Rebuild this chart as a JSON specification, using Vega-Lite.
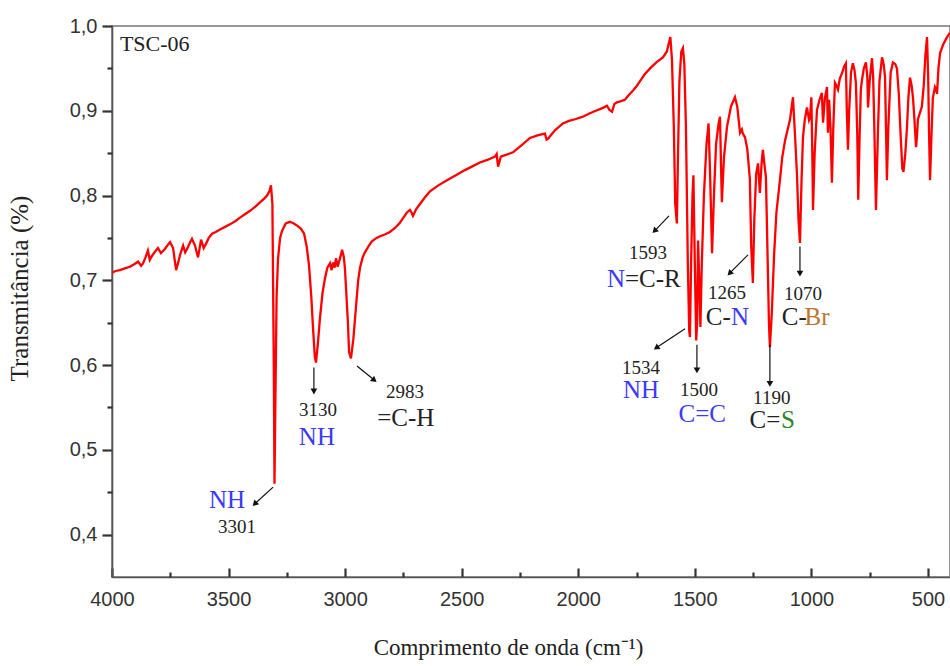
{
  "$schema": "https://vega.github.io/schema/vega-lite/v6.json",
  "width": 838,
  "height": 551,
  "autosize": "none",
  "padding": {"left": 112, "top": 26, "right": 0, "bottom": 89},
  "background": "white",
  "config": {"view": {"stroke": "#777", "strokeWidth": 1.5}, "axis": {"ticks": true, "tickOpacity": 1, "tickColor": "#333", "tickWidth": 2}},
  "datasets": {
    "spectrum": [
      {"w":4000,"T":0.709},{"w":3985,"T":0.711},{"w":3966,"T":0.712},{"w":3945,"T":0.714},{"w":3923,"T":0.716},{"w":3905,"T":0.719},{"w":3888,"T":0.722},{"w":3875,"T":0.717},{"w":3867,"T":0.720},{"w":3855,"T":0.728},{"w":3846,"T":0.735},{"w":3838,"T":0.724},{"w":3828,"T":0.729},{"w":3815,"T":0.734},{"w":3803,"T":0.738},{"w":3790,"T":0.732},{"w":3773,"T":0.737},{"w":3760,"T":0.742},{"w":3751,"T":0.745},{"w":3738,"T":0.738},{"w":3725,"T":0.712},{"w":3715,"T":0.722},{"w":3708,"T":0.730},{"w":3695,"T":0.741},{"w":3686,"T":0.733},{"w":3678,"T":0.737},{"w":3665,"T":0.745},{"w":3657,"T":0.749},{"w":3644,"T":0.741},{"w":3631,"T":0.727},{"w":3618,"T":0.748},{"w":3607,"T":0.738},{"w":3597,"T":0.743},{"w":3585,"T":0.750},{"w":3571,"T":0.755},{"w":3555,"T":0.757},{"w":3537,"T":0.760},{"w":3515,"T":0.763},{"w":3494,"T":0.766},{"w":3470,"T":0.770},{"w":3451,"T":0.774},{"w":3430,"T":0.778},{"w":3408,"T":0.782},{"w":3385,"T":0.787},{"w":3365,"T":0.792},{"w":3345,"T":0.797},{"w":3335,"T":0.800},{"w":3325,"T":0.805},{"w":3318,"T":0.812},{"w":3312,"T":0.790},{"w":3306,"T":0.600},{"w":3303,"T":0.460},{"w":3299,"T":0.560},{"w":3294,"T":0.680},{"w":3288,"T":0.725},{"w":3279,"T":0.750},{"w":3271,"T":0.758},{"w":3255,"T":0.767},{"w":3237,"T":0.769},{"w":3220,"T":0.767},{"w":3203,"T":0.764},{"w":3190,"T":0.761},{"w":3176,"T":0.755},{"w":3165,"T":0.740},{"w":3155,"T":0.718},{"w":3145,"T":0.680},{"w":3138,"T":0.645},{"w":3130,"T":0.610},{"w":3125,"T":0.603},{"w":3117,"T":0.625},{"w":3108,"T":0.655},{"w":3097,"T":0.685},{"w":3086,"T":0.703},{"w":3076,"T":0.715},{"w":3065,"T":0.720},{"w":3058,"T":0.712},{"w":3052,"T":0.721},{"w":3045,"T":0.715},{"w":3039,"T":0.726},{"w":3032,"T":0.716},{"w":3026,"T":0.722},{"w":3018,"T":0.730},{"w":3013,"T":0.736},{"w":3006,"T":0.728},{"w":3001,"T":0.715},{"w":2994,"T":0.680},{"w":2988,"T":0.650},{"w":2983,"T":0.615},{"w":2975,"T":0.608},{"w":2965,"T":0.630},{"w":2953,"T":0.670},{"w":2944,"T":0.700},{"w":2936,"T":0.715},{"w":2925,"T":0.727},{"w":2915,"T":0.733},{"w":2900,"T":0.740},{"w":2885,"T":0.746},{"w":2865,"T":0.750},{"w":2850,"T":0.752},{"w":2830,"T":0.754},{"w":2808,"T":0.757},{"w":2785,"T":0.762},{"w":2765,"T":0.768},{"w":2750,"T":0.774},{"w":2735,"T":0.780},{"w":2722,"T":0.783},{"w":2715,"T":0.780},{"w":2709,"T":0.776},{"w":2695,"T":0.784},{"w":2679,"T":0.790},{"w":2660,"T":0.797},{"w":2636,"T":0.805},{"w":2600,"T":0.812},{"w":2563,"T":0.818},{"w":2525,"T":0.824},{"w":2486,"T":0.830},{"w":2450,"T":0.835},{"w":2422,"T":0.839},{"w":2390,"T":0.842},{"w":2357,"T":0.846},{"w":2350,"T":0.849},{"w":2344,"T":0.834},{"w":2338,"T":0.840},{"w":2332,"T":0.846},{"w":2310,"T":0.848},{"w":2280,"T":0.851},{"w":2245,"T":0.859},{"w":2207,"T":0.868},{"w":2175,"T":0.871},{"w":2143,"T":0.873},{"w":2136,"T":0.866},{"w":2130,"T":0.867},{"w":2100,"T":0.877},{"w":2066,"T":0.885},{"w":2040,"T":0.888},{"w":2014,"T":0.890},{"w":1980,"T":0.893},{"w":1950,"T":0.897},{"w":1925,"T":0.900},{"w":1907,"T":0.902},{"w":1890,"T":0.904},{"w":1877,"T":0.906},{"w":1866,"T":0.901},{"w":1855,"T":0.899},{"w":1845,"T":0.908},{"w":1834,"T":0.910},{"w":1820,"T":0.911},{"w":1800,"T":0.913},{"w":1785,"T":0.918},{"w":1765,"T":0.924},{"w":1750,"T":0.929},{"w":1735,"T":0.935},{"w":1715,"T":0.943},{"w":1692,"T":0.950},{"w":1665,"T":0.957},{"w":1637,"T":0.963},{"w":1620,"T":0.970},{"w":1605,"T":0.987},{"w":1598,"T":0.960},{"w":1590,"T":0.880},{"w":1584,"T":0.790},{"w":1577,"T":0.767},{"w":1572,"T":0.850},{"w":1566,"T":0.935},{"w":1558,"T":0.970},{"w":1551,"T":0.974},{"w":1545,"T":0.955},{"w":1538,"T":0.880},{"w":1530,"T":0.720},{"w":1524,"T":0.640},{"w":1521,"T":0.633},{"w":1516,"T":0.720},{"w":1510,"T":0.800},{"w":1506,"T":0.824},{"w":1500,"T":0.720},{"w":1494,"T":0.629},{"w":1490,"T":0.650},{"w":1486,"T":0.747},{"w":1481,"T":0.700},{"w":1476,"T":0.645},{"w":1470,"T":0.720},{"w":1461,"T":0.800},{"w":1450,"T":0.860},{"w":1441,"T":0.885},{"w":1434,"T":0.820},{"w":1426,"T":0.732},{"w":1418,"T":0.800},{"w":1409,"T":0.860},{"w":1398,"T":0.885},{"w":1392,"T":0.893},{"w":1388,"T":0.840},{"w":1384,"T":0.792},{"w":1375,"T":0.845},{"w":1362,"T":0.881},{"w":1345,"T":0.905},{"w":1328,"T":0.916},{"w":1318,"T":0.905},{"w":1306,"T":0.874},{"w":1298,"T":0.878},{"w":1294,"T":0.873},{"w":1285,"T":0.869},{"w":1275,"T":0.855},{"w":1264,"T":0.820},{"w":1258,"T":0.740},{"w":1251,"T":0.697},{"w":1245,"T":0.770},{"w":1237,"T":0.825},{"w":1229,"T":0.838},{"w":1221,"T":0.803},{"w":1213,"T":0.840},{"w":1208,"T":0.854},{"w":1202,"T":0.838},{"w":1195,"T":0.822},{"w":1188,"T":0.730},{"w":1182,"T":0.650},{"w":1178,"T":0.621},{"w":1170,"T":0.660},{"w":1160,"T":0.730},{"w":1150,"T":0.780},{"w":1135,"T":0.818},{"w":1125,"T":0.845},{"w":1113,"T":0.865},{"w":1100,"T":0.880},{"w":1092,"T":0.889},{"w":1079,"T":0.916},{"w":1070,"T":0.870},{"w":1062,"T":0.826},{"w":1055,"T":0.770},{"w":1049,"T":0.744},{"w":1042,"T":0.820},{"w":1036,"T":0.869},{"w":1028,"T":0.890},{"w":1019,"T":0.904},{"w":1010,"T":0.889},{"w":1006,"T":0.892},{"w":1000,"T":0.916},{"w":996,"T":0.850},{"w":993,"T":0.783},{"w":986,"T":0.850},{"w":976,"T":0.901},{"w":965,"T":0.913},{"w":955,"T":0.921},{"w":950,"T":0.886},{"w":942,"T":0.915},{"w":933,"T":0.928},{"w":929,"T":0.874},{"w":924,"T":0.913},{"w":918,"T":0.880},{"w":912,"T":0.815},{"w":906,"T":0.880},{"w":899,"T":0.933},{"w":893,"T":0.930},{"w":886,"T":0.925},{"w":878,"T":0.938},{"w":869,"T":0.944},{"w":860,"T":0.952},{"w":852,"T":0.956},{"w":848,"T":0.900},{"w":843,"T":0.854},{"w":838,"T":0.900},{"w":830,"T":0.945},{"w":822,"T":0.956},{"w":815,"T":0.948},{"w":809,"T":0.933},{"w":803,"T":0.870},{"w":799,"T":0.795},{"w":794,"T":0.860},{"w":788,"T":0.925},{"w":783,"T":0.936},{"w":775,"T":0.950},{"w":766,"T":0.957},{"w":760,"T":0.940},{"w":757,"T":0.904},{"w":750,"T":0.935},{"w":740,"T":0.962},{"w":735,"T":0.940},{"w":730,"T":0.880},{"w":723,"T":0.783},{"w":715,"T":0.870},{"w":708,"T":0.935},{"w":697,"T":0.963},{"w":690,"T":0.955},{"w":684,"T":0.940},{"w":680,"T":0.880},{"w":676,"T":0.818},{"w":670,"T":0.880},{"w":660,"T":0.945},{"w":650,"T":0.957},{"w":640,"T":0.955},{"w":633,"T":0.950},{"w":625,"T":0.920},{"w":617,"T":0.870},{"w":610,"T":0.832},{"w":605,"T":0.828},{"w":597,"T":0.850},{"w":590,"T":0.880},{"w":584,"T":0.915},{"w":577,"T":0.939},{"w":570,"T":0.930},{"w":564,"T":0.915},{"w":558,"T":0.890},{"w":551,"T":0.857},{"w":547,"T":0.870},{"w":543,"T":0.890},{"w":535,"T":0.897},{"w":526,"T":0.905},{"w":518,"T":0.930},{"w":511,"T":0.965},{"w":504,"T":0.987},{"w":499,"T":0.940},{"w":495,"T":0.870},{"w":491,"T":0.818},{"w":485,"T":0.870},{"w":479,"T":0.915},{"w":470,"T":0.928},{"w":465,"T":0.925},{"w":461,"T":0.920},{"w":455,"T":0.950},{"w":448,"T":0.968},{"w":435,"T":0.978},{"w":420,"T":0.986},{"w":406,"T":0.992}
    ],
    "arrows": [
      {"w":3309,"T":0.456,"w2":3385,"T2":0.437,"dir":"sw"},
      {"w":3134,"T":0.597,"w2":3134,"T2":0.570,"dir":"s"},
      {"w":2949,"T":0.599,"w2":2878,"T2":0.583,"dir":"se"},
      {"w":1611,"T":0.776,"w2":1670,"T2":0.759,"dir":"sw"},
      {"w":1542,"T":0.643,"w2":1662,"T2":0.621,"dir":"sw2"},
      {"w":1491,"T":0.624,"w2":1491,"T2":0.595,"dir":"s"},
      {"w":1272,"T":0.730,"w2":1348,"T2":0.709,"dir":"sw"},
      {"w":1049,"T":0.740,"w2":1049,"T2":0.709,"dir":"s"},
      {"w":1178,"T":0.624,"w2":1178,"T2":0.579,"dir":"s"}
    ],
    "labels": [
      {"text":"NH","w":3507,"T":0.441,"tipo":"grupo","cor":"azul"},
      {"text":"3301","w":3464,"T":0.409,"tipo":"numero","cor":"preto"},
      {"text":"3130","w":3116,"T":0.547,"tipo":"numero","cor":"preto"},
      {"text":"NH","w":3121,"T":0.515,"tipo":"grupo","cor":"azul"},
      {"text":"2983","w":2743,"T":0.568,"tipo":"numero","cor":"preto"},
      {"text":"=C-H","w":2740,"T":0.538,"tipo":"grupo","cor":"preto"},
      {"text":"1593","w":1701,"T":0.732,"tipo":"numero","cor":"preto"},
      {"text":"N","w":1838,"T":0.702,"tipo":"grupo","cor":"azul"},
      {"text":"=C-R","w":1680,"T":0.702,"tipo":"grupo","cor":"preto"},
      {"text":"1265","w":1362,"T":0.685,"tipo":"numero","cor":"preto"},
      {"text":"C-","w":1399,"T":0.657,"tipo":"grupo","cor":"preto"},
      {"text":"N","w":1306,"T":0.657,"tipo":"grupo","cor":"azul"},
      {"text":"1070","w":1036,"T":0.684,"tipo":"numero","cor":"preto"},
      {"text":"C-","w":1073,"T":0.657,"tipo":"grupo","cor":"preto"},
      {"text":"Br","w":976,"T":0.657,"tipo":"grupo","cor":"marrom"},
      {"text":"1534","w":1731,"T":0.597,"tipo":"numero","cor":"preto"},
      {"text":"NH","w":1731,"T":0.571,"tipo":"grupo","cor":"azul"},
      {"text":"1500","w":1482,"T":0.571,"tipo":"numero","cor":"preto"},
      {"text":"C=C","w":1468,"T":0.542,"tipo":"grupo","cor":"azul"},
      {"text":"1190","w":1170,"T":0.561,"tipo":"numero","cor":"preto"},
      {"text":"C=","w":1199,"T":0.535,"tipo":"grupo","cor":"preto"},
      {"text":"S","w":1101,"T":0.535,"tipo":"grupo","cor":"verde"}
    ],
    "sample": [{"text":"TSC-06","w":3966,"T":0.979}]
  },
  "resolve": {"axis": {"x": "independent", "y": "independent"}},
  "layer": [
    {
      "data": {"name": "spectrum"},
      "mark": {"type": "line", "color": "#ff0000", "strokeWidth": 2.3, "clip": true},
      "encoding": {
        "x": {"field": "w", "type": "quantitative", "sort": null,
          "scale": {"domain": [4000, 405.4], "nice": false, "zero": false},
          "axis": {"orient": "bottom", "values": [4000,3500,3000,2500,2000,1500,1000,500], "format": "d",
            "title": "Comprimento de onda (cm⁻¹)", "grid": false, "labelFlush": false,
            "tickSize": -9, "labelPadding": 21, "labelFontSize": 20, "labelFont": "Liberation Sans", "labelColor": "#333",
            "domainColor": "#555", "domainWidth": 1.6, "tickColor": "#333", "tickWidth": 2.2, "tickOpacity": 1,
            "titleFont": "Liberation Serif", "titleFontSize": 23, "titleFontWeight": "normal", "titleColor": "#222", "titlePadding": 27,
            "titleX": 396, "titleAlign": "center"}},
        "y": {"field": "T", "type": "quantitative",
          "scale": {"domain": [0.35, 1.0], "nice": false, "zero": false},
          "axis": {"orient": "left", "values": [0.4,0.5,0.6,0.7,0.8,0.9,1.0],
            "labelExpr": "replace(format(datum.value, '.1f'), '.', ',')", "grid": false,
            "tickSize": 10, "labelPadding": 5, "labelFontSize": 20, "labelFont": "Liberation Sans", "labelColor": "#333",
            "domainColor": "#555", "domainWidth": 1.6, "tickColor": "#333", "tickWidth": 2.2, "tickOpacity": 1,
            "title": "Transmitância (%)", "titleFont": "Liberation Serif", "titleFontSize": 25, "titleFontWeight": "normal", "titleColor": "#222",
            "titleX": -93, "titleY": 262, "titleAngle": -90, "titleAlign": "center", "titleBaseline": "middle"}}
      }
    },
    {
      "data": {"name": "arrows"},
      "mark": {"type": "rule", "color": "#111", "strokeWidth": 1.2},
      "encoding": {
        "x": {"field": "w", "type": "quantitative",
          "scale": {"domain": [4000, 405.4], "nice": false, "zero": false},
          "axis": {"orient": "bottom", "values": [3750,3250,2750,2250,1750,1250,750], "labels": false, "domain": false,
            "grid": false, "tickSize": -5, "tickColor": "#333", "tickWidth": 2.2, "tickOpacity": 1, "title": null}},
        "y": {"field": "T", "type": "quantitative",
          "scale": {"domain": [0.35, 1.0], "nice": false, "zero": false},
          "axis": {"orient": "left", "values": [0.45,0.55,0.65,0.75,0.85,0.95], "labels": false, "domain": false,
            "grid": false, "tickSize": 5, "tickColor": "#333", "tickWidth": 2.2, "tickOpacity": 1, "title": null}},
        "x2": {"field": "w2"},
        "y2": {"field": "T2"}
      }
    },
    {
      "data": {"name": "arrows"},
      "transform": [{"filter": "datum.dir === 's'"}],
      "mark": {"type": "point", "shape": "triangle", "filled": true, "color": "#111", "size": 45, "angle": 180, "opacity": 1},
      "encoding": {
        "x": {"field": "w2", "type": "quantitative", "scale": {"domain": [4000, 405.4], "nice": false, "zero": false}, "axis": null},
        "y": {"field": "T2", "type": "quantitative", "scale": {"domain": [0.35, 1.0], "nice": false, "zero": false}, "axis": null}
      }
    },
    {
      "data": {"name": "arrows"},
      "transform": [{"filter": "datum.dir === 'sw'"}],
      "mark": {"type": "point", "shape": "triangle", "filled": true, "color": "#111", "size": 45, "angle": 224, "opacity": 1},
      "encoding": {
        "x": {"field": "w2", "type": "quantitative", "scale": {"domain": [4000, 405.4], "nice": false, "zero": false}, "axis": null},
        "y": {"field": "T2", "type": "quantitative", "scale": {"domain": [0.35, 1.0], "nice": false, "zero": false}, "axis": null}
      }
    },
    {
      "data": {"name": "arrows"},
      "transform": [{"filter": "datum.dir === 'sw2'"}],
      "mark": {"type": "point", "shape": "triangle", "filled": true, "color": "#111", "size": 45, "angle": 235, "opacity": 1},
      "encoding": {
        "x": {"field": "w2", "type": "quantitative", "scale": {"domain": [4000, 405.4], "nice": false, "zero": false}, "axis": null},
        "y": {"field": "T2", "type": "quantitative", "scale": {"domain": [0.35, 1.0], "nice": false, "zero": false}, "axis": null}
      }
    },
    {
      "data": {"name": "arrows"},
      "transform": [{"filter": "datum.dir === 'se'"}],
      "mark": {"type": "point", "shape": "triangle", "filled": true, "color": "#111", "size": 45, "angle": 129, "opacity": 1},
      "encoding": {
        "x": {"field": "w2", "type": "quantitative", "scale": {"domain": [4000, 405.4], "nice": false, "zero": false}, "axis": null},
        "y": {"field": "T2", "type": "quantitative", "scale": {"domain": [0.35, 1.0], "nice": false, "zero": false}, "axis": null}
      }
    },
    {
      "data": {"name": "labels"},
      "transform": [{"filter": "datum.tipo === 'numero'"}],
      "mark": {"type": "text", "font": "Liberation Serif", "fontSize": 19, "align": "center", "baseline": "middle"},
      "encoding": {
        "x": {"field": "w", "type": "quantitative", "scale": {"domain": [4000, 405.4], "nice": false, "zero": false}, "axis": null},
        "y": {"field": "T", "type": "quantitative", "scale": {"domain": [0.35, 1.0], "nice": false, "zero": false}, "axis": null},
        "text": {"field": "text"},
        "color": {"field": "cor", "type": "nominal", "legend": null,
          "scale": {"domain": ["preto", "azul", "verde", "marrom"], "range": ["#222222", "#3a3aff", "#2a8a2a", "#c0752f"]}}
      }
    },
    {
      "data": {"name": "labels"},
      "transform": [{"filter": "datum.tipo === 'grupo'"}],
      "mark": {"type": "text", "font": "Liberation Serif", "fontSize": 25, "align": "center", "baseline": "middle"},
      "encoding": {
        "x": {"field": "w", "type": "quantitative", "scale": {"domain": [4000, 405.4], "nice": false, "zero": false}, "axis": null},
        "y": {"field": "T", "type": "quantitative", "scale": {"domain": [0.35, 1.0], "nice": false, "zero": false}, "axis": null},
        "text": {"field": "text"},
        "color": {"field": "cor", "type": "nominal", "legend": null,
          "scale": {"domain": ["preto", "azul", "verde", "marrom"], "range": ["#222222", "#3a3aff", "#2a8a2a", "#c0752f"]}}
      }
    },
    {
      "data": {"name": "sample"},
      "mark": {"type": "text", "font": "Liberation Serif", "fontSize": 22, "align": "left", "baseline": "middle", "color": "#222"},
      "encoding": {
        "x": {"field": "w", "type": "quantitative", "scale": {"domain": [4000, 405.4], "nice": false, "zero": false}, "axis": null},
        "y": {"field": "T", "type": "quantitative", "scale": {"domain": [0.35, 1.0], "nice": false, "zero": false}, "axis": null},
        "text": {"field": "text"}
      }
    }
  ]
}
